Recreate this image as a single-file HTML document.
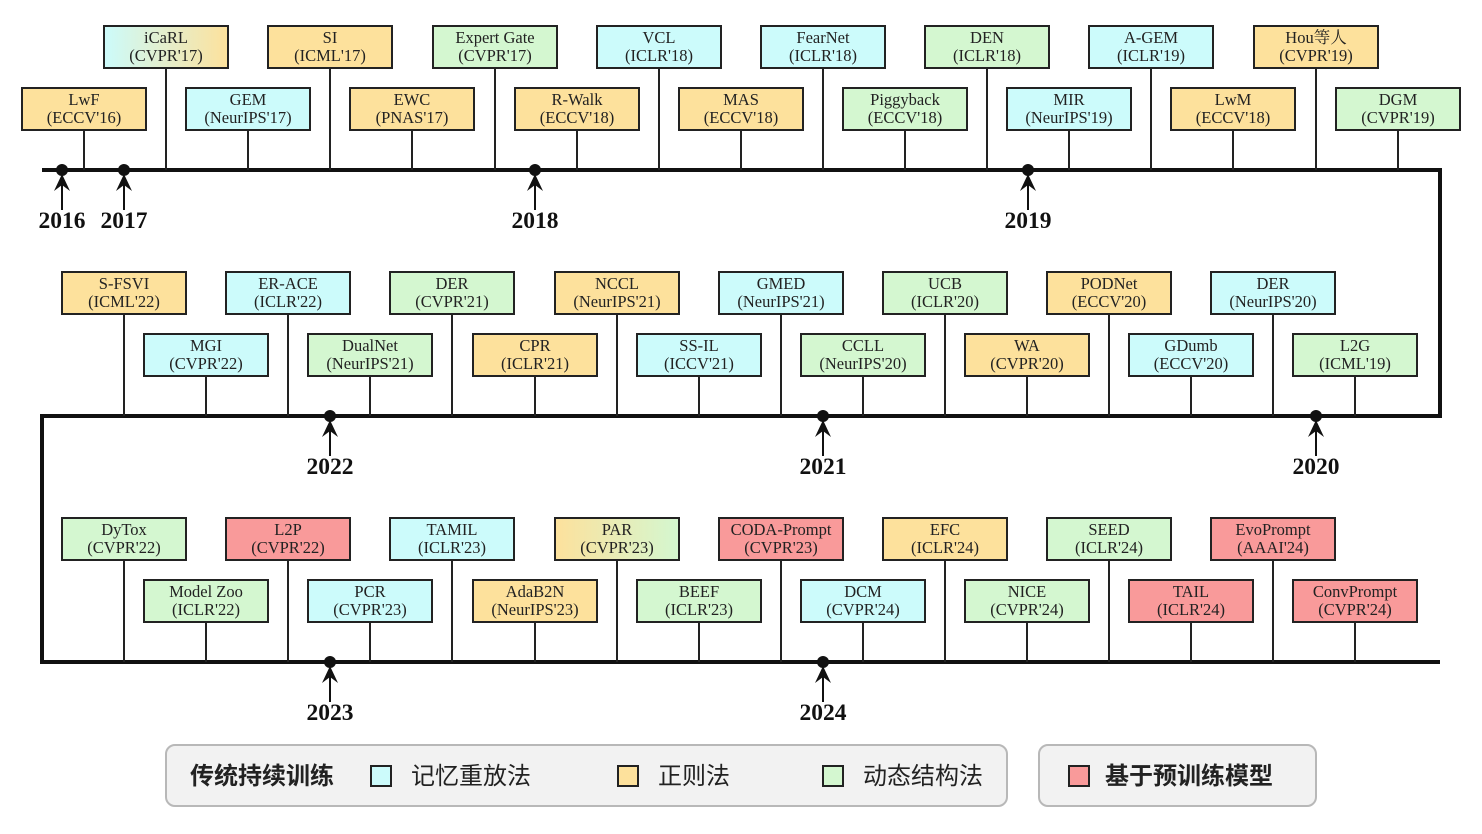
<!DOCTYPE html>
<html><head><meta charset="utf-8"><style>
html,body{margin:0;padding:0;background:#fff;}
svg text{font-family:"Liberation Serif","Noto Serif CJK SC",serif;}
.b{stroke:#222;stroke-width:2}
.t{font-size:16.5px;text-anchor:middle;fill:#222}
.y{font-size:23.5px;font-weight:bold;text-anchor:middle;fill:#111}
.l{stroke:#222;stroke-width:2}
</style></head><body>
<svg width="1482" height="829" viewBox="0 0 1482 829" xmlns="http://www.w3.org/2000/svg">
<defs>
<linearGradient id="cy" x1="0" x2="1"><stop offset="0" stop-color="#ccfbfb"/><stop offset="1" stop-color="#fde19c"/></linearGradient>
<linearGradient id="yg" x1="0" x2="1"><stop offset="0" stop-color="#fde19c"/><stop offset="1" stop-color="#d4f7d0"/></linearGradient>
<g id="ar"><circle cx="0" cy="0" r="6" fill="#111"/><polygon points="0,4 -8,21 0,15 8,21" fill="#111"/><line x1="0" y1="15" x2="0" y2="40" stroke="#111" stroke-width="2"/></g>
</defs>
<g stroke="#111" stroke-width="4" fill="none">
<polyline points="42,170 1440,170 1440,416 42,416 42,662 1440,662"/>
</g>
<!-- Row 1 -->
<g>
<line class="l" x1="84" y1="130" x2="84" y2="170"/><rect class="b" x="22" y="88" width="124" height="42" fill="#fde19c"/><text class="t" x="84" y="105">LwF</text><text class="t" x="84" y="123">(ECCV'16)</text>
<line class="l" x1="166" y1="68" x2="166" y2="170"/><rect class="b" x="104" y="26" width="124" height="42" fill="url(#cy)"/><text class="t" x="166" y="43">iCaRL</text><text class="t" x="166" y="61">(CVPR'17)</text>
<line class="l" x1="248" y1="130" x2="248" y2="170"/><rect class="b" x="186" y="88" width="124" height="42" fill="#ccfbfb"/><text class="t" x="248" y="105">GEM</text><text class="t" x="248" y="123">(NeurIPS'17)</text>
<line class="l" x1="330" y1="68" x2="330" y2="170"/><rect class="b" x="268" y="26" width="124" height="42" fill="#fde19c"/><text class="t" x="330" y="43">SI</text><text class="t" x="330" y="61">(ICML'17)</text>
<line class="l" x1="412" y1="130" x2="412" y2="170"/><rect class="b" x="350" y="88" width="124" height="42" fill="#fde19c"/><text class="t" x="412" y="105">EWC</text><text class="t" x="412" y="123">(PNAS'17)</text>
<line class="l" x1="495" y1="68" x2="495" y2="170"/><rect class="b" x="433" y="26" width="124" height="42" fill="#d4f7d0"/><text class="t" x="495" y="43">Expert Gate</text><text class="t" x="495" y="61">(CVPR'17)</text>
<line class="l" x1="577" y1="130" x2="577" y2="170"/><rect class="b" x="515" y="88" width="124" height="42" fill="#fde19c"/><text class="t" x="577" y="105">R-Walk</text><text class="t" x="577" y="123">(ECCV'18)</text>
<line class="l" x1="659" y1="68" x2="659" y2="170"/><rect class="b" x="597" y="26" width="124" height="42" fill="#ccfbfb"/><text class="t" x="659" y="43">VCL</text><text class="t" x="659" y="61">(ICLR'18)</text>
<line class="l" x1="741" y1="130" x2="741" y2="170"/><rect class="b" x="679" y="88" width="124" height="42" fill="#fde19c"/><text class="t" x="741" y="105">MAS</text><text class="t" x="741" y="123">(ECCV'18)</text>
<line class="l" x1="823" y1="68" x2="823" y2="170"/><rect class="b" x="761" y="26" width="124" height="42" fill="#ccfbfb"/><text class="t" x="823" y="43">FearNet</text><text class="t" x="823" y="61">(ICLR'18)</text>
<line class="l" x1="905" y1="130" x2="905" y2="170"/><rect class="b" x="843" y="88" width="124" height="42" fill="#d4f7d0"/><text class="t" x="905" y="105">Piggyback</text><text class="t" x="905" y="123">(ECCV'18)</text>
<line class="l" x1="987" y1="68" x2="987" y2="170"/><rect class="b" x="925" y="26" width="124" height="42" fill="#d4f7d0"/><text class="t" x="987" y="43">DEN</text><text class="t" x="987" y="61">(ICLR'18)</text>
<line class="l" x1="1069" y1="130" x2="1069" y2="170"/><rect class="b" x="1007" y="88" width="124" height="42" fill="#ccfbfb"/><text class="t" x="1069" y="105">MIR</text><text class="t" x="1069" y="123">(NeurIPS'19)</text>
<line class="l" x1="1151" y1="68" x2="1151" y2="170"/><rect class="b" x="1089" y="26" width="124" height="42" fill="#ccfbfb"/><text class="t" x="1151" y="43">A-GEM</text><text class="t" x="1151" y="61">(ICLR'19)</text>
<line class="l" x1="1233" y1="130" x2="1233" y2="170"/><rect class="b" x="1171" y="88" width="124" height="42" fill="#fde19c"/><text class="t" x="1233" y="105">LwM</text><text class="t" x="1233" y="123">(ECCV'18)</text>
<line class="l" x1="1316" y1="68" x2="1316" y2="170"/><rect class="b" x="1254" y="26" width="124" height="42" fill="#fde19c"/><text class="t" x="1316" y="43">Hou等人</text><text class="t" x="1316" y="61">(CVPR'19)</text>
<line class="l" x1="1398" y1="130" x2="1398" y2="170"/><rect class="b" x="1336" y="88" width="124" height="42" fill="#d4f7d0"/><text class="t" x="1398" y="105">DGM</text><text class="t" x="1398" y="123">(CVPR'19)</text>
</g>
<!-- Row 2 -->
<g>
<line class="l" x1="124" y1="314" x2="124" y2="416"/><rect class="b" x="62" y="272" width="124" height="42" fill="#fde19c"/><text class="t" x="124" y="289">S-FSVI</text><text class="t" x="124" y="307">(ICML'22)</text>
<line class="l" x1="206" y1="376" x2="206" y2="416"/><rect class="b" x="144" y="334" width="124" height="42" fill="#ccfbfb"/><text class="t" x="206" y="351">MGI</text><text class="t" x="206" y="369">(CVPR'22)</text>
<line class="l" x1="288" y1="314" x2="288" y2="416"/><rect class="b" x="226" y="272" width="124" height="42" fill="#ccfbfb"/><text class="t" x="288" y="289">ER-ACE</text><text class="t" x="288" y="307">(ICLR'22)</text>
<line class="l" x1="370" y1="376" x2="370" y2="416"/><rect class="b" x="308" y="334" width="124" height="42" fill="#d4f7d0"/><text class="t" x="370" y="351">DualNet</text><text class="t" x="370" y="369">(NeurIPS'21)</text>
<line class="l" x1="452" y1="314" x2="452" y2="416"/><rect class="b" x="390" y="272" width="124" height="42" fill="#d4f7d0"/><text class="t" x="452" y="289">DER</text><text class="t" x="452" y="307">(CVPR'21)</text>
<line class="l" x1="535" y1="376" x2="535" y2="416"/><rect class="b" x="473" y="334" width="124" height="42" fill="#fde19c"/><text class="t" x="535" y="351">CPR</text><text class="t" x="535" y="369">(ICLR'21)</text>
<line class="l" x1="617" y1="314" x2="617" y2="416"/><rect class="b" x="555" y="272" width="124" height="42" fill="#fde19c"/><text class="t" x="617" y="289">NCCL</text><text class="t" x="617" y="307">(NeurIPS'21)</text>
<line class="l" x1="699" y1="376" x2="699" y2="416"/><rect class="b" x="637" y="334" width="124" height="42" fill="#ccfbfb"/><text class="t" x="699" y="351">SS-IL</text><text class="t" x="699" y="369">(ICCV'21)</text>
<line class="l" x1="781" y1="314" x2="781" y2="416"/><rect class="b" x="719" y="272" width="124" height="42" fill="#ccfbfb"/><text class="t" x="781" y="289">GMED</text><text class="t" x="781" y="307">(NeurIPS'21)</text>
<line class="l" x1="863" y1="376" x2="863" y2="416"/><rect class="b" x="801" y="334" width="124" height="42" fill="#d4f7d0"/><text class="t" x="863" y="351">CCLL</text><text class="t" x="863" y="369">(NeurIPS'20)</text>
<line class="l" x1="945" y1="314" x2="945" y2="416"/><rect class="b" x="883" y="272" width="124" height="42" fill="#d4f7d0"/><text class="t" x="945" y="289">UCB</text><text class="t" x="945" y="307">(ICLR'20)</text>
<line class="l" x1="1027" y1="376" x2="1027" y2="416"/><rect class="b" x="965" y="334" width="124" height="42" fill="#fde19c"/><text class="t" x="1027" y="351">WA</text><text class="t" x="1027" y="369">(CVPR'20)</text>
<line class="l" x1="1109" y1="314" x2="1109" y2="416"/><rect class="b" x="1047" y="272" width="124" height="42" fill="#fde19c"/><text class="t" x="1109" y="289">PODNet</text><text class="t" x="1109" y="307">(ECCV'20)</text>
<line class="l" x1="1191" y1="376" x2="1191" y2="416"/><rect class="b" x="1129" y="334" width="124" height="42" fill="#ccfbfb"/><text class="t" x="1191" y="351">GDumb</text><text class="t" x="1191" y="369">(ECCV'20)</text>
<line class="l" x1="1273" y1="314" x2="1273" y2="416"/><rect class="b" x="1211" y="272" width="124" height="42" fill="#ccfbfb"/><text class="t" x="1273" y="289">DER</text><text class="t" x="1273" y="307">(NeurIPS'20)</text>
<line class="l" x1="1355" y1="376" x2="1355" y2="416"/><rect class="b" x="1293" y="334" width="124" height="42" fill="#d4f7d0"/><text class="t" x="1355" y="351">L2G</text><text class="t" x="1355" y="369">(ICML'19)</text>
</g>
<!-- Row 3 -->
<g>
<line class="l" x1="124" y1="560" x2="124" y2="662"/><rect class="b" x="62" y="518" width="124" height="42" fill="#d4f7d0"/><text class="t" x="124" y="535">DyTox</text><text class="t" x="124" y="553">(CVPR'22)</text>
<line class="l" x1="206" y1="622" x2="206" y2="662"/><rect class="b" x="144" y="580" width="124" height="42" fill="#d4f7d0"/><text class="t" x="206" y="597">Model Zoo</text><text class="t" x="206" y="615">(ICLR'22)</text>
<line class="l" x1="288" y1="560" x2="288" y2="662"/><rect class="b" x="226" y="518" width="124" height="42" fill="#f99a9a"/><text class="t" x="288" y="535">L2P</text><text class="t" x="288" y="553">(CVPR'22)</text>
<line class="l" x1="370" y1="622" x2="370" y2="662"/><rect class="b" x="308" y="580" width="124" height="42" fill="#ccfbfb"/><text class="t" x="370" y="597">PCR</text><text class="t" x="370" y="615">(CVPR'23)</text>
<line class="l" x1="452" y1="560" x2="452" y2="662"/><rect class="b" x="390" y="518" width="124" height="42" fill="#ccfbfb"/><text class="t" x="452" y="535">TAMIL</text><text class="t" x="452" y="553">(ICLR'23)</text>
<line class="l" x1="535" y1="622" x2="535" y2="662"/><rect class="b" x="473" y="580" width="124" height="42" fill="#fde19c"/><text class="t" x="535" y="597">AdaB2N</text><text class="t" x="535" y="615">(NeurIPS'23)</text>
<line class="l" x1="617" y1="560" x2="617" y2="662"/><rect class="b" x="555" y="518" width="124" height="42" fill="url(#yg)"/><text class="t" x="617" y="535">PAR</text><text class="t" x="617" y="553">(CVPR'23)</text>
<line class="l" x1="699" y1="622" x2="699" y2="662"/><rect class="b" x="637" y="580" width="124" height="42" fill="#d4f7d0"/><text class="t" x="699" y="597">BEEF</text><text class="t" x="699" y="615">(ICLR'23)</text>
<line class="l" x1="781" y1="560" x2="781" y2="662"/><rect class="b" x="719" y="518" width="124" height="42" fill="#f99a9a"/><text class="t" x="781" y="535">CODA-Prompt</text><text class="t" x="781" y="553">(CVPR'23)</text>
<line class="l" x1="863" y1="622" x2="863" y2="662"/><rect class="b" x="801" y="580" width="124" height="42" fill="#ccfbfb"/><text class="t" x="863" y="597">DCM</text><text class="t" x="863" y="615">(CVPR'24)</text>
<line class="l" x1="945" y1="560" x2="945" y2="662"/><rect class="b" x="883" y="518" width="124" height="42" fill="#fde19c"/><text class="t" x="945" y="535">EFC</text><text class="t" x="945" y="553">(ICLR'24)</text>
<line class="l" x1="1027" y1="622" x2="1027" y2="662"/><rect class="b" x="965" y="580" width="124" height="42" fill="#d4f7d0"/><text class="t" x="1027" y="597">NICE</text><text class="t" x="1027" y="615">(CVPR'24)</text>
<line class="l" x1="1109" y1="560" x2="1109" y2="662"/><rect class="b" x="1047" y="518" width="124" height="42" fill="#d4f7d0"/><text class="t" x="1109" y="535">SEED</text><text class="t" x="1109" y="553">(ICLR'24)</text>
<line class="l" x1="1191" y1="622" x2="1191" y2="662"/><rect class="b" x="1129" y="580" width="124" height="42" fill="#f99a9a"/><text class="t" x="1191" y="597">TAIL</text><text class="t" x="1191" y="615">(ICLR'24)</text>
<line class="l" x1="1273" y1="560" x2="1273" y2="662"/><rect class="b" x="1211" y="518" width="124" height="42" fill="#f99a9a"/><text class="t" x="1273" y="535">EvoPrompt</text><text class="t" x="1273" y="553">(AAAI'24)</text>
<line class="l" x1="1355" y1="622" x2="1355" y2="662"/><rect class="b" x="1293" y="580" width="124" height="42" fill="#f99a9a"/><text class="t" x="1355" y="597">ConvPrompt</text><text class="t" x="1355" y="615">(CVPR'24)</text>
</g>
<!-- Years -->
<use href="#ar" x="62" y="170"/><text class="y" x="62" y="228">2016</text>
<use href="#ar" x="124" y="170"/><text class="y" x="124" y="228">2017</text>
<use href="#ar" x="535" y="170"/><text class="y" x="535" y="228">2018</text>
<use href="#ar" x="1028" y="170"/><text class="y" x="1028" y="228">2019</text>
<use href="#ar" x="330" y="416"/><text class="y" x="330" y="474">2022</text>
<use href="#ar" x="823" y="416"/><text class="y" x="823" y="474">2021</text>
<use href="#ar" x="1316" y="416"/><text class="y" x="1316" y="474">2020</text>
<use href="#ar" x="330" y="662"/><text class="y" x="330" y="720">2023</text>
<use href="#ar" x="823" y="662"/><text class="y" x="823" y="720">2024</text>
<!-- Legend -->
<rect x="166" y="745" width="841" height="61" rx="9" fill="#f2f2f2" stroke="#b8b8b8" stroke-width="2"/>
<rect x="1039" y="745" width="277" height="61" rx="9" fill="#f2f2f2" stroke="#b8b8b8" stroke-width="2"/>
<g style="font-family:'Noto Sans CJK SC',sans-serif;font-size:24px;fill:#222">
<text x="190" y="784" style="font-family:'Noto Sans CJK SC',sans-serif;font-weight:bold">传统持续训练</text>
<rect x="371" y="766" width="20" height="20" fill="#ccfbfb" stroke="#222" stroke-width="2"/>
<text x="411" y="784" style="font-family:'Noto Sans CJK SC',sans-serif">记忆重放法</text>
<rect x="618" y="766" width="20" height="20" fill="#fde19c" stroke="#222" stroke-width="2"/>
<text x="658" y="784" style="font-family:'Noto Sans CJK SC',sans-serif">正则法</text>
<rect x="823" y="766" width="20" height="20" fill="#d4f7d0" stroke="#222" stroke-width="2"/>
<text x="863" y="784" style="font-family:'Noto Sans CJK SC',sans-serif">动态结构法</text>
<rect x="1069" y="766" width="20" height="20" fill="#f99a9a" stroke="#222" stroke-width="2"/>
<text x="1105" y="784" style="font-family:'Noto Sans CJK SC',sans-serif;font-weight:bold">基于预训练模型</text>
</g>
</svg>
</body></html>
